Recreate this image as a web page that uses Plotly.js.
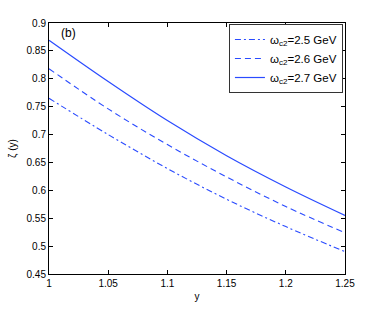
<!DOCTYPE html>
<html>
<head>
<meta charset="utf-8">
<script src="https://cdn.plot.ly/plotly-3.0.1.min.js"></script>
<style>html,body{margin:0;padding:0;background:#fff;}#chart{width:382px;height:309px;}</style>
</head>
<body>
<div id="chart"></div>
<script>
var yVals = [1.00, 1.05, 1.10, 1.15, 1.20, 1.25];
var zeta25 = [0.765, 0.700, 0.639, 0.584, 0.535, 0.490];
var zeta26 = [0.818, 0.746, 0.682, 0.624, 0.571, 0.524];
var zeta27 = [0.869, 0.795, 0.725, 0.662, 0.606, 0.555];
var seriesNames = ['ω<sub>c2</sub>=2.5 GeV', 'ω<sub>c2</sub>=2.6 GeV', 'ω<sub>c2</sub>=2.7 GeV'];
var xTicks = [1, 1.05, 1.1, 1.15, 1.2, 1.25];
var xTickText = ['1', '1.05', '1.1', '1.15', '1.2', '1.25'];
var yTicks = [0.45, 0.5, 0.55, 0.6, 0.65, 0.7, 0.75, 0.8, 0.85, 0.9];
var yTickText = ['0.45', '0.5', '0.55', '0.6', '0.65', '0.7', '0.75', '0.8', '0.85', '0.9'];

var col = '#2a4bff';
var traces = [
  {x: yVals, y: zeta25, name: seriesNames[0], mode: 'lines', line: {color: col, width: 1.1, dash: '6px,3px,2px,3px', shape: 'spline'}},
  {x: yVals, y: zeta26, name: seriesNames[1], mode: 'lines', line: {color: col, width: 1.1, dash: '6px,4px', shape: 'spline'}},
  {x: yVals, y: zeta27, name: seriesNames[2], mode: 'lines', line: {color: col, width: 1.2, shape: 'spline'}}
];
var fnt = {family: 'Liberation Sans, Arial, sans-serif', size: 10, color: '#000'};
var layout = {
  width: 382, height: 309,
  margin: {l: 49, r: 37, t: 23, b: 34.5, pad: 0},
  paper_bgcolor: '#fff', plot_bgcolor: '#fff',
  font: fnt,
  showlegend: true,
  legend: {x: 0.993, y: 0.996, xanchor: 'right', yanchor: 'top', bgcolor: '#fff',
           bordercolor: '#333', borderwidth: 1, font: {family: fnt.family, size: 11.5, color: '#000'},
           tracegroupgap: 0, itemwidth: 30},
  xaxis: {range: [1, 1.25], tickvals: xTicks, ticktext: xTickText, ticks: 'inside', ticklen: 4,
          tickcolor: '#000', showline: true, linecolor: '#000', linewidth: 1, mirror: 'ticks',
          showgrid: false, zeroline: false, title: {text: 'y', font: fnt, standoff: 4}},
  yaxis: {range: [0.45, 0.9], tickvals: yTicks, ticktext: yTickText, ticks: 'inside', ticklen: 4,
          tickcolor: '#000', showline: true, linecolor: '#000', linewidth: 1, mirror: 'ticks',
          showgrid: false, zeroline: false, title: {text: 'ζ (y)', font: fnt, standoff: 8}},
  annotations: [{text: '(b)', xref: 'paper', yref: 'paper', x: 0.035, y: 0.96, xanchor: 'left', yanchor: 'middle',
                 showarrow: false, font: {family: fnt.family, size: 12, color: '#000'}}]
};
Plotly.newPlot('chart', traces, layout, {displayModeBar: false, staticPlot: true});
</script>
</body>
</html>
